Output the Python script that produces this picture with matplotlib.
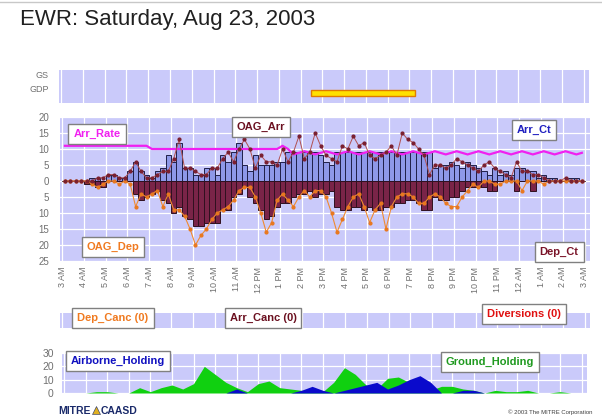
import matplotlib
matplotlib.use("Agg")
import matplotlib.pyplot as plt
import numpy as np
from matplotlib.ticker import FuncFormatter, MultipleLocator

W, H = 602, 418
plt.rcParams['font.family'] = ['Liberation Sans', 'DejaVu Sans']

# ---------------- data ----------------
hour_labels = ["3 AM", "4 AM", "5 AM", "6 AM", "7 AM", "8 AM", "9 AM", "10 AM", "11 AM",
               "12 PM", "1 PM", "2 PM", "3 PM", "4 PM", "5 PM", "6 PM", "7 PM", "8 PM",
               "9 PM", "10 PM", "11 PM", "12 AM", "1 AM", "2 AM", "3 AM"]

# quarter-hour counts, from 3 AM
arr_ct = [0, 0, 0, 0,  0, 1, 1, 0,  2, 2, 1, 1,  3, 6, 3, 2,
          1, 3, 4, 8,  6, 12, 4, 4,  2, 2, 4, 4,  2, 8, 6, 9,
          12, 5, 3, 8,  5, 5, 5, 6,  6, 9, 9, 9,  9, 9, 9, 8,
          6, 5, 9, 9,  9, 9, 9, 9,  9, 9, 9, 9,  9, 9, 9, 9,
          9, 9, 9, 9,  4, 5, 5, 6,  5, 4, 6, 5,  4, 3, 2, 4,
          2, 3, 2, 4,  4, 3, 3, 1,  2, 1, 1, 0,  0, 1, 1, 0]
dep_ct = [0, 0, 0, 0,  1, 1, 2, 2,  0, 0, 0, 0,  0, 4, 6, 5,
          4, 3, 6, 7,  10, 8, 11, 12,  14, 14, 13, 13,  13, 9, 9, 5,
          4, 2, 5, 7,  9, 12, 11, 8,  7, 7, 5, 4,  4, 3, 5, 4,
          4, 3, 8, 9,  9, 8, 8, 9,  8, 9, 9, 8,  8, 7, 7, 6,
          6, 7, 9, 9,  5, 6, 6, 5,  5, 3, 2, 2,  2, 2, 3, 3,
          0, 0, 0, 3,  0, 0, 3, 0,  0, 0, 0, 0,  0, 0, 0, 0]
oag_arr = [0, 0, 0, 0,  0, 0, 1, 1,  2, 2, 1, 1,  3, 6, 3, 1,
           1, 2, 3, 3,  7, 13, 4, 4,  3, 2, 2, 4,  4, 7, 9, 6,
           10, 13, 10, 4,  8, 6, 6, 5,  10, 6, 9, 14,  7, 9, 15, 11,
           8, 7, 6, 11,  10, 14, 11, 12,  8, 7, 8, 9,  11, 8, 15, 13,
           12, 10, 8, 2,  5, 5, 4, 5,  7, 6, 5, 4,  3, 5, 6, 4,
           3, 2, 1, 6,  3, 3, 2, 2,  1, 0, 0, 0,  1, 0, 0, 0]
oag_dep = [0, 0, 0, 0,  0, 1, 2, 1,  0, 0, 1, 0,  1, 8, 4, 5,
           4, 3, 8, 4,  9, 9, 11, 15,  20, 17, 15, 12,  10, 9, 8, 6,
           3, 2, 2, 5,  10, 16, 13, 6,  4, 6, 8, 5,  3, 5, 3, 3,
           5, 10, 16, 12,  8, 5, 4, 8,  13, 9, 7, 15,  8, 5, 4, 4,
           5, 7, 7, 5,  4, 5, 7, 8,  8, 5, 3, 1,  2, 0, 0, 1,
           1, 0, 0, 0,  3, 0, 0, 0,  1, 0, 0, 0,  0, 0, 0, 0]
arr_rate = [11, 11, 11, 11,  11, 11, 11, 11,  11, 11, 11, 11,  11, 11, 11, 11,
            10, 10, 10, 10,  10, 10, 10, 10,  10, 10, 10, 10,  10, 10, 10, 10,
            10, 10, 10, 10,  10, 10, 10, 10,  11, 10, 8.3, 8.8,  9.3, 8.8, 8.3, 8.8,
            9.3, 8.8, 8.3, 8.8,  9.3, 8.8, 8.3, 8.8,  9.3, 8.8, 8.3, 8.8,  9.3, 8.8, 8.3, 8.8,
            9.3, 8.8, 8.3, 8.8,  9.3, 8.8, 8.3, 8.8,  9.3, 8.8, 8.3, 8.8,  9.3, 8.8, 8.3, 8.8,
            9.3, 8.8, 8.3, 8.8,  9.3, 8.8, 8.3, 8.8,  9.3, 8.8, 8.3, 8.8,  9.3, 8.8, 8.3, 8.8]

# GDP program (hours after 3 AM)
gdp_start, gdp_end = 11.5, 16.25

# half-hour holding counts, from 3 AM to 3 AM
ground_holding = [0, 0, 0, 1, 1, 0, 0, 4, 1, 4, 6, 3, 7, 20, 14, 8, 4, 1, 7, 9, 4, 3, 2, 2,
                  1, 8, 19, 14, 6, 3, 11, 12, 8, 4, 2, 5, 5, 3, 2, 0, 2, 1, 1, 2, 0, 0, 1, 0, 0]
airborne_holding = [0, 0, 0, 0, 0, 0, 0, 0, 0, 0, 0, 0, 0, 0, 0, 0, 3, 0, 0, 0, 0, 0, 2, 5,
                    2, 0, 2, 4, 6, 8, 3, 6, 10, 13, 8, 0, 0, 2, 2, 0, 0, 0, 0, 0, 0, 0, 0, 0, 0]

# ---------------- style ----------------
BG = '#CACAFA'
GRAY = '#707070'
XMIN, XMAX = -0.1, 24.25


def rect(l, t, r, b):
    return [l / W, 1 - b / H, (r - l) / W, (b - t) / H]


def style_axes(ax):
    ax.set_facecolor(BG)
    for s in ax.spines.values():
        s.set_visible(False)
    ax.tick_params(length=0, colors=GRAY, labelsize=7)
    ax.set_xlim(XMIN, XMAX)
    ax.xaxis.set_major_locator(MultipleLocator(1))
    ax.grid(True, color='white', linewidth=0.9)
    ax.set_axisbelow(True)


fig = plt.figure(figsize=(W / 100, H / 100), dpi=100)
fig.patch.set_facecolor('white')

# frame line of the slide
fig.add_artist(plt.Line2D([0, 1], [1 - 2 / H, 1 - 2 / H], color='#C8C8C8', lw=1))

fig.text(20 / W, 1 - 19 / H, "EWR: Saturday, Aug 23, 2003", fontsize=16,
         color='#202020', va='center', ha='left')

# ---------------- GS / GDP panel ----------------
ax0 = fig.add_axes(rect(59, 70, 589, 103))
style_axes(ax0)
ax0.set_ylim(0, 1)
ax0.set_yticks([])
ax0.set_xticklabels([])
ax0.grid(True, axis='x', color='white', linewidth=0.9)
ax0.grid(False, axis='y')
ax0.barh(0.3, gdp_end - gdp_start, left=gdp_start, height=0.18,
         color='#FFE000', edgecolor='#E07A00', linewidth=1.0, zorder=3)
fig.text(49 / W, 1 - 76 / H, "GS", fontsize=6.5, color=GRAY, ha='right', va='center')
fig.text(49 / W, 1 - 89 / H, "GDP", fontsize=6.5, color=GRAY, ha='right', va='center')

# ---------------- main counts panel ----------------
ax = fig.add_axes(rect(60, 117, 590, 261))
style_axes(ax)
ax.set_ylim(-25, 20)
ax.yaxis.set_major_locator(MultipleLocator(5))
ax.yaxis.set_major_formatter(FuncFormatter(lambda v, p: f"{abs(int(round(v)))}"))
ax.set_xticks(np.arange(len(hour_labels)))
ax.set_xticklabels(hour_labels, rotation=90, fontsize=6.5, color=GRAY)
ax.tick_params(axis='x', pad=4)
ax.tick_params(axis='y', pad=8)

n = len(arr_ct)
xc = np.arange(n) / 4 + 0.125
ax.bar(xc, arr_ct, width=0.25, color='#8E98E8', edgecolor='#202048', linewidth=0.7, zorder=2)
ax.bar(xc, -np.array(dep_ct), width=0.25, color='#7A2448', edgecolor='#301020', linewidth=0.7, zorder=2)
ax.plot(xc, arr_rate, color='#F020F0', lw=1.6, zorder=4)
ax.plot(xc, -np.array(oag_dep), color='#F08A30', lw=0.8, zorder=5)
ax.plot(xc, -np.array(oag_dep), 'o', color='#E87820', ms=2.0, zorder=6)
ax.plot(xc, oag_arr, color='#B05050', lw=0.7, zorder=5)
ax.plot(xc, oag_arr, 'o', color='#7A2030', ms=2.0, zorder=6)


def box(x, y, text, color, size=8):
    fig.text(x / W, 1 - y / H, text, fontsize=size, fontweight='bold', color=color,
             ha='center', va='center', zorder=10,
             bbox=dict(boxstyle='square,pad=0.45', fc='white', ec='#808080', lw=1))


box(97, 134, "Arr_Rate", '#F020F0')
box(261, 127, "OAG_Arr", '#6B1020')
box(534, 130, "Arr_Ct", '#2020C0')
box(113, 247, "OAG_Dep", '#F07A20')
box(559, 252, "Dep_Ct", '#7A1428')

# ---------------- cancellations strip ----------------
ax2 = fig.add_axes(rect(60, 313, 590, 328))
style_axes(ax2)
ax2.set_yticks([])
ax2.set_xticklabels([])
ax2.grid(True, axis='x', color='white', linewidth=0.9)
ax2.grid(False, axis='y')
box(113, 318, "Dep_Canc (0)", '#F07A20')
box(263, 318, "Arr_Canc (0)", '#6B1020')
box(524, 314, "Diversions (0)", '#E01010')

# ---------------- holding panel ----------------
ax3 = fig.add_axes(rect(62, 353, 587, 393))
style_axes(ax3)
ax3.set_ylim(0, 30)
ax3.set_yticks([0, 10, 20, 30])
ax3.set_xticklabels([])
ax3.tick_params(axis='y', labelsize=7.5, pad=6)
xh = np.arange(len(ground_holding)) / 2
ax3.fill_between(xh, 0, ground_holding, color='#10D010', lw=0, zorder=2)
ax3.fill_between(xh, 0, airborne_holding, color='#0A0ACC', lw=0, zorder=3)
box(118, 361, "Airborne_Holding", '#1010C0')
box(490, 362, "Ground_Holding", '#209A20')

# ---------------- footer ----------------
fig.text(58 / W, 1 - 411 / H, "MITRE", fontsize=7.5, fontweight='bold', color='#1A2A6A',
         va='center', ha='left')
fig.add_artist(plt.Line2D([96 / W], [1 - 410 / H], marker='^', ms=6, color='#E0B020',
                          mec='#1A2A6A', mew=0.4, linestyle='none'))
fig.text(101 / W, 1 - 411 / H, "CAASD", fontsize=7.5, fontweight='bold', color='#1A2A6A',
         va='center', ha='left')
fig.text(508 / W, 1 - 412 / H, "© 2003 The MITRE Corporation", fontsize=4.3, color='#404040',
         va='center', ha='left')

fig.savefig("out.png", dpi=100)
